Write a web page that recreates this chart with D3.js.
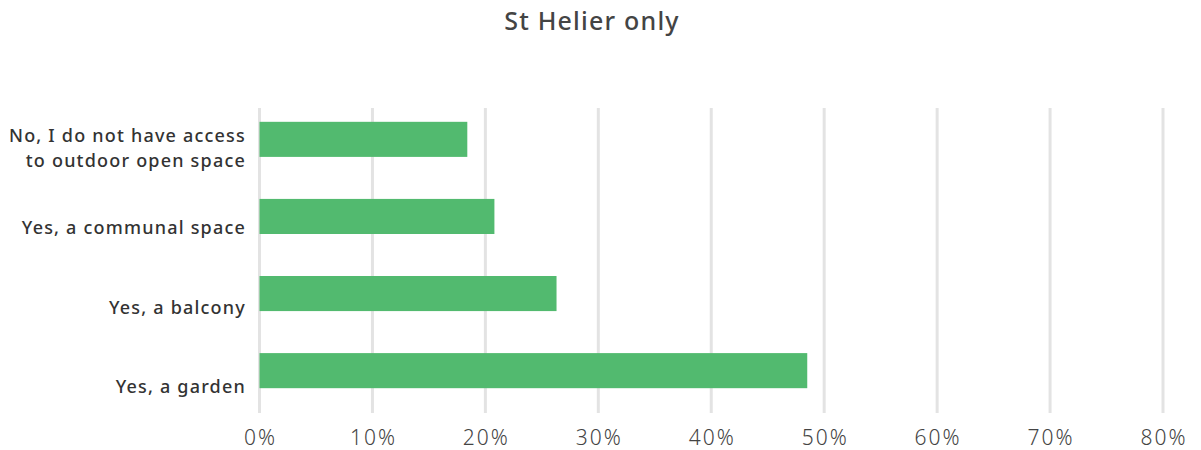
<!DOCTYPE html>
<meta charset="utf-8">
<script src="https://d3js.org/d3.v7.min.js"></script>
<style>
  body { margin: 0; background: #fff; }
  text { font-family: "Noto Sans", sans-serif; }
</style>
<div id="chart"></div>
<script>
// data
var categories = ["No, I do not have access|to outdoor open space", "Yes, a communal space", "Yes, a balcony", "Yes, a garden"];
var values = [18.4, 20.8, 26.3, 48.5];
var ticks = [0, 10, 20, 30, 40, 50, 60, 70, 80];
var title = "St Helier only";

var W = 1201, H = 450;
var svg = d3.select("#chart").append("svg")
    .attr("width", W)
    .attr("height", H);

// title
svg.append("text")
    .attr("x", 592)
    .attr("y", 30)
    .attr("text-anchor", "middle")
    .style("font-size", "25px")
    .style("font-weight", 500)
    .style("letter-spacing", "1.2px")
    .style("fill", "#444")
    .text(title);

var x = d3.scaleLinear().domain([0, 80]).range([259.5, 1163]);
var y = d3.scaleBand().domain(categories).range([101, 409]).paddingInner(0.545).paddingOuter(0.27);
// labels sit a little lower than bars in the original
var yl = d3.scalePoint().domain(categories).range([148, 387]);

// gridlines
svg.append("g")
  .selectAll("line")
  .data(ticks)
  .enter()
  .append("line")
    .attr("x1", function(d) { return x(d); })
    .attr("x2", function(d) { return x(d); })
    .attr("y1", 108)
    .attr("y2", 413)
    .attr("stroke", "#e3e3e3")
    .attr("stroke-width", 3);

// bars
svg.append("g")
  .selectAll("rect")
  .data(values)
  .enter()
  .append("rect")
    .attr("x", x(0))
    .attr("y", function(d, i) { return y(categories[i]); })
    .attr("width", function(d) { return x(d) - x(0); })
    .attr("height", y.bandwidth())
    .attr("fill", "#52ba6f");

// x tick labels
svg.append("g")
  .selectAll("text")
  .data(ticks)
  .enter()
  .append("text")
    .attr("x", function(d) { return x(d) + 1; })
    .attr("y", 445)
    .attr("text-anchor", "middle")
    .style("font-size", "21px")
    .style("font-weight", 300)
    .style("letter-spacing", "2px")
    .style("fill", "#444")
    .text(function(d) { return d + "%"; });

// category labels
var lab = svg.append("g")
  .selectAll("text")
  .data(categories)
  .enter()
  .append("text")
    .attr("x", 246)
    .attr("y", function(d) { return yl(d); })
    .attr("text-anchor", "end")
    .style("font-size", "18px")
    .style("font-weight", 500)
    .style("letter-spacing", "1.2px")
    .style("fill", "#333");

lab.each(function(d) {
  var lines = d.split("|");
  var t = d3.select(this);
  lines.forEach(function(s, i) {
    t.append("tspan")
      .attr("x", 246)
      .attr("dy", i == 0 ? (0.35 - (lines.length - 1) * 0.7) + "em" : "1.4em")
      .text(s);
  });
});
</script>
